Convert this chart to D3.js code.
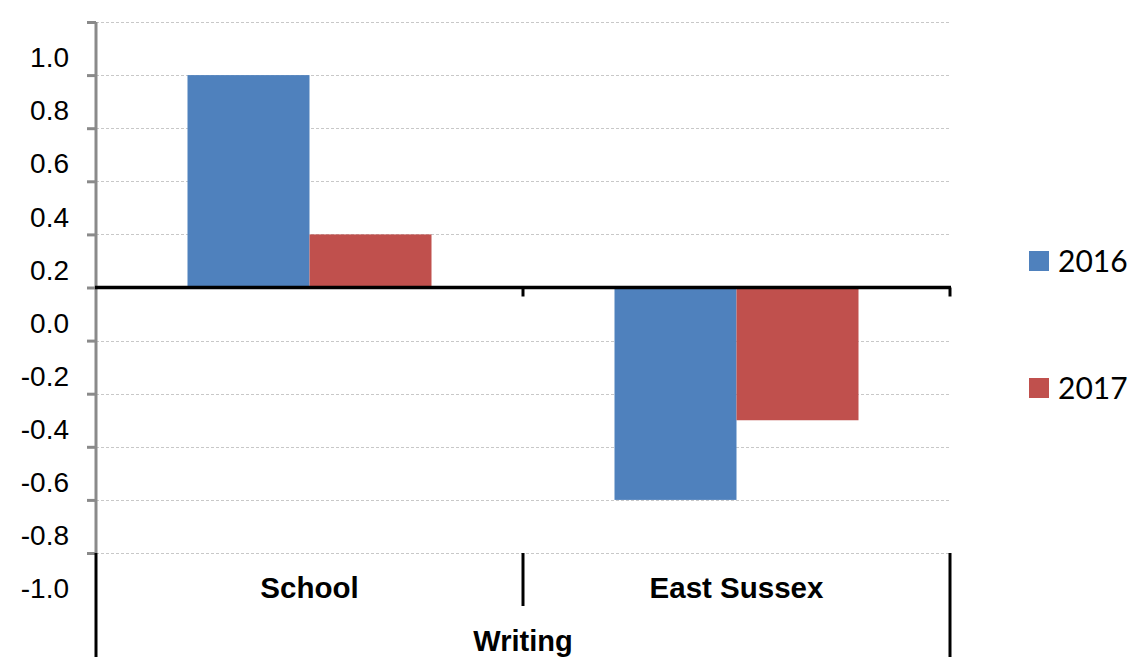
<!DOCTYPE html>
<html><head><meta charset="utf-8">
<script src="https://cdn.jsdelivr.net/npm/d3@7"></script>
<style>body{margin:0;background:#fff}</style>
</head><body>
<svg id="c" width="1132" height="657"></svg>
<script>
const categories = ["School", "East Sussex"];
const series = ["2016", "2017"];
const values2016 = [0.8, -0.8];
const values2017 = [0.2, -0.5];
const tickValues = [1.0, 0.8, 0.6, 0.4, 0.2, 0.0, -0.2, -0.4, -0.6, -0.8, -1.0];
const groupLabel = "Writing";
const colors = ["#4F81BD", "#C0504D"];

const svg = d3.select("#c");
const L = 96, R = 950, T = 22, B = 553;
const y = d3.scaleLinear().domain([-1, 1]).range([B, T]);
const x0 = d3.scaleBand().domain(categories).range([L, R]);
const x1 = d3.scaleBand().domain(series).range([0, x0.bandwidth()]).paddingInner(0).paddingOuter(0.75);
const color = d3.scaleOrdinal().domain(series).range(colors);

// gridlines
svg.append("g").selectAll("line").data(tickValues.filter(v => v !== 0)).join("line")
  .attr("x1", L).attr("x2", R).attr("y1", d => Math.round(y(d)) + 0.5).attr("y2", d => Math.round(y(d)) + 0.5)
  .attr("stroke", "#c8c8c8").attr("stroke-width", 1).attr("stroke-dasharray", "3,2");

// bars
const data = categories.map((c, i) => ({cat: c, vals: [values2016[i], values2017[i]]}));
const g = svg.append("g").selectAll("g").data(data).join("g")
  .attr("transform", d => `translate(${x0(d.cat)},0)`);
g.selectAll("rect").data(d => d.vals.map((v, j) => ({s: series[j], v}))).join("rect")
  .attr("x", d => x1(d.s)).attr("width", x1.bandwidth())
  .attr("y", d => y(Math.max(0, d.v))).attr("height", d => Math.abs(y(d.v) - y(0)))
  .attr("fill", d => color(d.s));

// y axis
const fmt = d => d3.format(".1f")(d).replace("\u2212", "-");
const yAxis = d3.axisLeft(y).tickValues(tickValues).tickSize(9).tickFormat(fmt);
const ya = svg.append("g").attr("transform", `translate(${L},0)`).call(yAxis);
ya.select(".domain").attr("stroke", "#8a8a8a").attr("stroke-width", 3).attr("d", `M0,${T}V${B}`);
ya.selectAll(".tick line").attr("stroke", "#8a8a8a").attr("stroke-width", 3);
ya.selectAll(".tick text").attr("x", -27).attr("dy", "1.6em")
  .attr("font-family", "Liberation Sans, Arial, sans-serif").attr("font-size", 28).attr("fill", "#000");

// zero line
const y0 = y(0);
svg.append("line").attr("x1", L - 1).attr("x2", R + 1).attr("y1", y0).attr("y2", y0)
  .attr("stroke", "#000").attr("stroke-width", 3.5);
// small ticks on zero line
svg.append("g").selectAll("line").data([x0.range()[0] + x0.step(), R]).join("line")
  .attr("x1", d => d).attr("x2", d => d).attr("y1", y0).attr("y2", y0 + 9)
  .attr("stroke", "#000").attr("stroke-width", 3);

// category separators
svg.append("line").attr("x1", L).attr("x2", L).attr("y1", B).attr("y2", 657).attr("stroke", "#000").attr("stroke-width", 3);
svg.append("line").attr("x1", R).attr("x2", R).attr("y1", B).attr("y2", 657).attr("stroke", "#000").attr("stroke-width", 3);
svg.append("line").attr("x1", x0("East Sussex")).attr("x2", x0("East Sussex")).attr("y1", B).attr("y2", 606).attr("stroke", "#000").attr("stroke-width", 3);

// category labels
svg.append("g").selectAll("text").data(categories).join("text")
  .attr("x", d => x0(d) + x0.bandwidth() / 2).attr("y", 598).attr("text-anchor", "middle")
  .attr("font-family", "Liberation Sans, Arial, sans-serif").attr("font-weight", "bold").attr("font-size", 29.5)
  .text(d => d);
svg.append("text").attr("x", (L + R) / 2).attr("y", 651).attr("text-anchor", "middle")
  .attr("font-family", "Liberation Sans, Arial, sans-serif").attr("font-weight", "bold").attr("font-size", 29)
  .text(groupLabel);

// legend
const legY = [251, 378];
const lg = svg.append("g").selectAll("g").data(series).join("g")
  .attr("transform", (d, i) => `translate(1029,${legY[i]})`);
lg.append("rect").attr("width", 20).attr("height", 20).attr("fill", d => color(d));
lg.append("text").attr("x", 29).attr("y", 21).attr("font-family", "Lato, Carlito, sans-serif").attr("font-size", 30).text(d => d);
</script>
</body></html>
